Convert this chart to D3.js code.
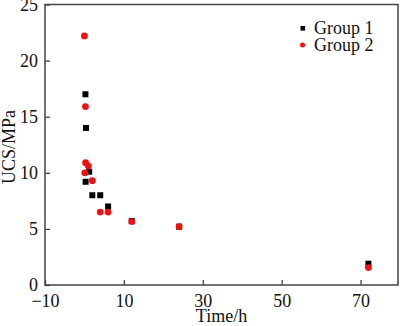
<!DOCTYPE html>
<html>
<head>
<meta charset="utf-8">
<script src="https://cdn.jsdelivr.net/npm/d3@7"></script>
<style>
html,body{margin:0;padding:0;background:#fff;}
svg{display:block;}
text{font-family:"Liberation Serif","Times New Roman",serif;}
</style>
</head>
<body>
<svg id="chart" width="400" height="326"></svg>
<script>
const group1Time = [0.25, 0.4, 0.3, 1.2, 2, 4, 6, 12, 24, 72];
const group1UCS  = [17.0, 14.0, 9.2, 10.1, 8.0, 8.0, 7.0, 5.7, 5.2, 1.9];
const group2Time = [0, 0.25, 0.3, 1.0, 0.1, 2, 4, 6, 12, 24, 72];
const group2UCS  = [22.2, 15.9, 10.9, 10.6, 10.0, 9.3, 6.5, 6.5, 5.65, 5.2, 1.55];
const xTicks = [-10, 10, 30, 50, 70];
const yTicks = [0, 5, 10, 15, 20, 25];
const seriesNames = ["Group 1", "Group 2"];
const xTitle = "Time/h";
const yTitle = "UCS/MPa";

const svg = d3.select("#chart");
const L = 45, R = 398, T = 4.5, B = 285;
const x = d3.scaleLinear().domain([-10, 79.5]).range([L, R]);
const y = d3.scaleLinear().domain([0, 25]).range([B, T]);
const axisColor = "#444";
const fs = 18;

// x axis
const gx = svg.append("g").attr("transform", `translate(0,${B})`)
  .call(d3.axisBottom(x).tickValues(xTicks).tickSizeInner(-5).tickSizeOuter(0).tickPadding(9)
        .tickFormat(d => d < 0 ? "\u2212" + Math.abs(d) : d));
gx.select(".domain").remove();
gx.selectAll("line").attr("stroke", axisColor).attr("stroke-width", 1.3);
gx.selectAll("text").attr("font-size", fs).attr("fill", "#111").attr("font-family", "Liberation Serif");

// y axis
const gy = svg.append("g").attr("transform", `translate(${L},0)`)
  .call(d3.axisLeft(y).tickValues(yTicks).tickSizeInner(-5).tickSizeOuter(0).tickPadding(7));
gy.select(".domain").remove();
gy.selectAll("line").attr("stroke", axisColor).attr("stroke-width", 1.3);
gy.selectAll("text").attr("font-size", fs).attr("fill", "#111").attr("font-family", "Liberation Serif");

// frame
svg.append("rect").attr("x", L).attr("y", T).attr("width", R - L).attr("height", B - T)
  .attr("fill", "none").attr("stroke", axisColor).attr("stroke-width", 1.5);

// titles
svg.append("text").attr("x", (L + R) / 2).attr("y", 322).attr("text-anchor", "middle")
  .attr("font-size", fs).attr("fill", "#111").text(xTitle);
svg.append("text").attr("transform", `translate(15,147) rotate(-90)`).attr("text-anchor", "middle")
  .attr("font-size", fs).attr("fill", "#111").text(yTitle);

// group 1 squares
const sq = 6;
svg.append("g").selectAll("rect").data(group1Time.map((t, i) => [t, group1UCS[i]])).join("rect")
  .attr("x", d => x(d[0]) - sq / 2).attr("y", d => y(d[1]) - sq / 2)
  .attr("width", sq).attr("height", sq).attr("fill", "#000");

// group 2 circles
svg.append("g").selectAll("circle").data(group2Time.map((t, i) => [t, group2UCS[i]])).join("circle")
  .attr("cx", d => x(d[0])).attr("cy", d => y(d[1])).attr("r", 3.4).attr("fill", "#ee1111");

// legend
const lg = svg.append("g");
lg.append("rect").attr("x", 300.5).attr("y", 26).attr("width", 4.6).attr("height", 4.6).attr("fill", "#000");
lg.append("circle").attr("cx", 302.6).attr("cy", 45).attr("r", 2.5).attr("fill", "#ee1111");
lg.selectAll("text").data(seriesNames).join("text")
  .attr("x", 314).attr("y", (d, i) => 33.5 + i * 17.5)
  .attr("font-size", fs).attr("fill", "#111").text(d => d);
</script>
</body>
</html>
